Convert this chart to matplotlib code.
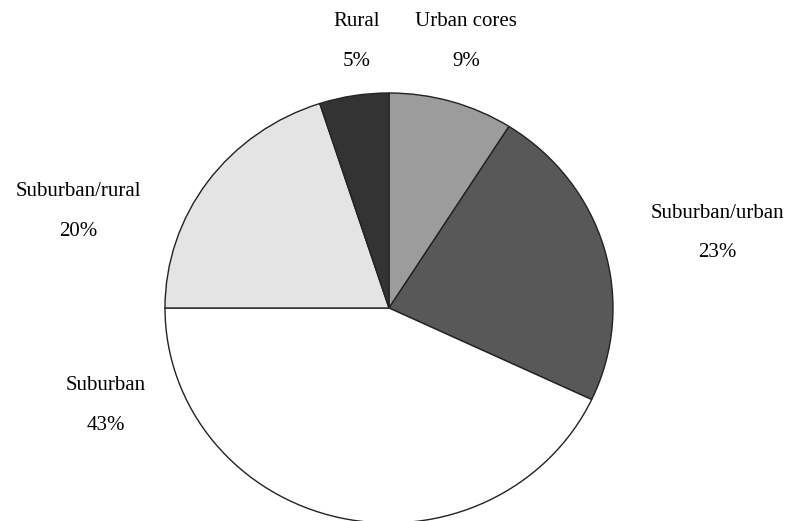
import matplotlib.pyplot as plt

# Share of population by area type (%)
labels = ["Urban cores", "Suburban/urban", "Suburban", "Suburban/rural", "Rural"]
shares = [9, 23, 43, 20, 5]
colors = ["#9c9c9c", "#585858", "#ffffff", "#e4e4e4", "#333333"]

# label anchor points in pixels (x, y from top) for name and percent lines
label_pos = [(466, 22), (717, 213), (106, 386), (78, 192), (357, 22)]

W, H = 787, 521
plt.rcParams['font.family'] = ['Liberation Serif', 'DejaVu Serif']

fig = plt.figure(figsize=(W / 100, H / 100), dpi=100)
ax = fig.add_axes([0, 0, 1, 1])

ax.pie(shares, colors=colors, startangle=90, counterclock=False,
       wedgeprops=dict(edgecolor="#222222", linewidth=1.0))

# slightly wider than tall, as printed
cx, cy, rx, ry = 389, 308, 224, 215
ax.set_aspect('auto')
ax.set_xlim(-cx / rx, (W - cx) / rx)
ax.set_ylim(-(H - cy) / ry, cy / ry)
ax.axis('off')

for name, share, (x, y) in zip(labels, shares, label_pos):
    fig.text(x / W, 1 - y / H, name, ha='center', va='center', fontsize=15)
    fig.text(x / W, 1 - (y + 40) / H, f"{share}%", ha='center', va='center', fontsize=15)

fig.savefig("out.png", dpi=100)
